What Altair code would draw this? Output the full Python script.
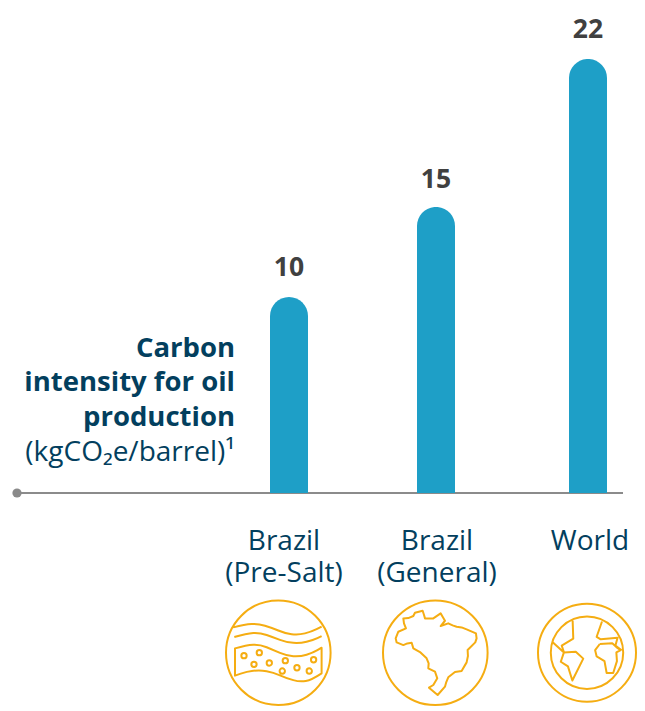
import altair as alt
import pandas as pd

categories = ["Brazil (Pre-Salt)", "Brazil (General)", "World"]
bar_values = [9.93, 14.5, 22.0]
value_labels = ["10", "15", "22"]
category_lines = ["Brazil\n(Pre-Salt)", "Brazil\n(General)", "World"]
title_lines = ["Carbon", "intensity for oil", "production"]
unit_text = "(kgCO₂e/barrel)¹"

# icon outlines (units: reference zoom pixels)
wave_1 = [(100,112),(135,103),(175,101),(215,113),(255,130),(295,135),(335,125),(365,110)]
wave_2 = [(103,141),(140,130),(180,128),(220,142),(260,157),(300,160),(340,150),(365,138)]
band_top = [(105,175),(140,165),(180,163),(220,180),(260,197),(300,200),(340,188),(365,173)]
band_bottom = [(365,250),(335,270),(300,276),(260,265),(220,247),(180,240),(140,245),(105,257)]
pores = [(132,197),(178,188),(162,223),(208,219),(256,212),(247,243),(291,233),(341,209),(328,243)]
brazil = [(610,85),(625,84),(640,78),(645,68),(668,62),(672,74),(675,85),(700,85),(722,70),(728,80),(735,92),
          (722,108),(745,100),(758,106),(770,110),(785,112),(800,118),(828,130),(830,145),(826,157),(803,180),
          (804,198),(800,217),(785,243),(765,246),(745,262),(739,276),(735,290),(713,315),(687,293),(700,285),
          (712,265),(705,245),(685,235),(686,220),(680,205),(660,186),(640,175),(635,158),(622,160),(610,165),
          (590,157),(587,145),(595,125),(618,115),(612,100),(610,85)]
world_lines = [
    [(1128,85),(1130,143),(1093,165),(1100,187)],
    [(1065,155),(1100,187),(1138,185),(1162,207),(1127,277),(1113,232),(1090,217),(1100,187)],
    [(1222,88),(1205,137),(1218,145),(1272,140),(1265,165),(1285,180)],
    [(1215,160),(1255,158),(1268,170),(1282,180),(1268,187),(1270,215),(1258,253),(1237,253),
     (1230,215),(1205,200),(1200,180),(1215,160)],
]

R = 157.0
CY = 188.0

def fmt(p, cx):
    return f"{(p[0]-cx)/R:.3f},{(p[1]-CY)/R:.3f}"

def poly(pts, cx, close=False):
    s = "M" + " L".join(fmt(p, cx) for p in pts)
    return s + (" Z" if close else "")

def smooth(pts, cx, start=True):
    s = ("M" if start else "L") + fmt(pts[0], cx)
    for i in range(1, len(pts) - 1):
        mid = ((pts[i][0] + pts[i+1][0]) / 2, (pts[i][1] + pts[i+1][1]) / 2)
        s += " Q" + fmt(pts[i], cx) + " " + fmt(mid, cx)
    return s + " L" + fmt(pts[-1], cx)

def ring(c, r, cx):
    a = fmt((c[0]-r, c[1]), cx)
    b = fmt((c[0]+r, c[1]), cx)
    rr = f"{r/R:.3f},{r/R:.3f}"
    return f"M{a} A{rr} 0 1,0 {b} A{rr} 0 1,0 {a} Z"

c1, c2, c3 = 235, 706, 1174
icon_1 = " ".join([ring((c1, CY), R, c1), smooth(wave_1, c1), smooth(wave_2, c1),
                   smooth(band_top, c1) + " " + smooth(band_bottom, c1, start=False) + " Z"]
                  + [ring(p, 8, c1) for p in pores])
icon_2 = " ".join([ring((c2, CY), R, c2), poly(brazil, c2, True)])
icon_3 = " ".join([ring((c3, CY), R, c3), ring((c3, CY), 116, c3)] + [poly(l, c3) for l in world_lines])

FONT = "Open Sans"
NAVY = "#033F5E"
BLUE = "#1E9FC7"
GOLD = "#F5AD12"
GREY = "#8A8A8A"
DARK = "#404040"

df = pd.DataFrame({"cat": categories, "v": bar_values, "lab": value_labels})
x_enc = alt.X("cat:N", sort=None, axis=None,
              scale=alt.Scale(type="point", domain=categories, range=[281, 580], padding=0))
y_enc = alt.Y("v:Q", axis=None, scale=alt.Scale(domain=[0, 24], range=[485, 11.5]))
nudge = alt.expr(f"datum.cat === '{categories[1]}' ? -2.5 : 0")
ynudge = alt.expr(f"datum.cat === '{categories[1]}' ? 2 : 0")

base = alt.Chart(df)
layers = []
layers.append(base.mark_rule(color=GREY, strokeWidth=1.6).encode(
    x=alt.value(9), x2=alt.value(615), y=alt.value(485)))
layers.append(base.mark_bar(color=BLUE, width=38, cornerRadiusTopLeft=19, cornerRadiusTopRight=19,
                            xOffset=nudge).encode(x=x_enc, y=y_enc))
layers.append(base.mark_text(font=FONT, fontSize=26.5, fontWeight="bold", color=DARK, dy=-21,
                             baseline="alphabetic", xOffset=nudge, yOffset=ynudge).encode(
    x=x_enc, y=y_enc, text="lab:N"))
layers.append(alt.Chart(pd.DataFrame({"a": [0]})).mark_point(
    shape="circle", filled=True, color=GREY, size=85, opacity=1).encode(x=alt.value(9), y=alt.value(485)))

for line, ly in zip(title_lines, [341, 375, 410]):
    layers.append(alt.Chart(pd.DataFrame({"t": [line]})).mark_text(
        font=FONT, fontSize=27.5, fontWeight="bold", color=NAVY, align="right", baseline="middle"
    ).encode(x=alt.value(227), y=alt.value(ly), text="t:N"))
layers.append(alt.Chart(pd.DataFrame({"t": [unit_text]})).mark_text(
    font=FONT, fontSize=28, color=NAVY, align="right", baseline="middle"
).encode(x=alt.value(227), y=alt.value(445), text="t:N"))

for label, lx in zip(category_lines, [276, 429, 582]):
    layers.append(alt.Chart(pd.DataFrame({"t": [label]})).mark_text(
        font=FONT, fontSize=28, color=NAVY, align="center", baseline="middle",
        lineBreak="\n", lineHeight=32
    ).encode(x=alt.value(lx), y=alt.value(534), text="t:N"))

# the third ring is drawn slightly smaller so it stays inside the 645px page
for shape, ix, sz in zip([icon_1, icon_2, icon_3], [270.3, 427.3, 579], [10940, 10940, 9604]):
    layers.append(alt.Chart(pd.DataFrame({"a": [0]})).mark_point(
        shape=shape, filled=False, stroke=GOLD, strokeWidth=2, size=sz, opacity=1, strokeJoin="round"
    ).encode(x=alt.value(ix), y=alt.value(644.7)))

chart = alt.layer(*layers).properties(
    width=629, height=699, padding=0,
    autosize=alt.AutoSizeParams(type="none"),
    background="white",
).configure_view(stroke=None)

chart.save("out.html", embed_options={"renderer": "svg", "actions": False})
